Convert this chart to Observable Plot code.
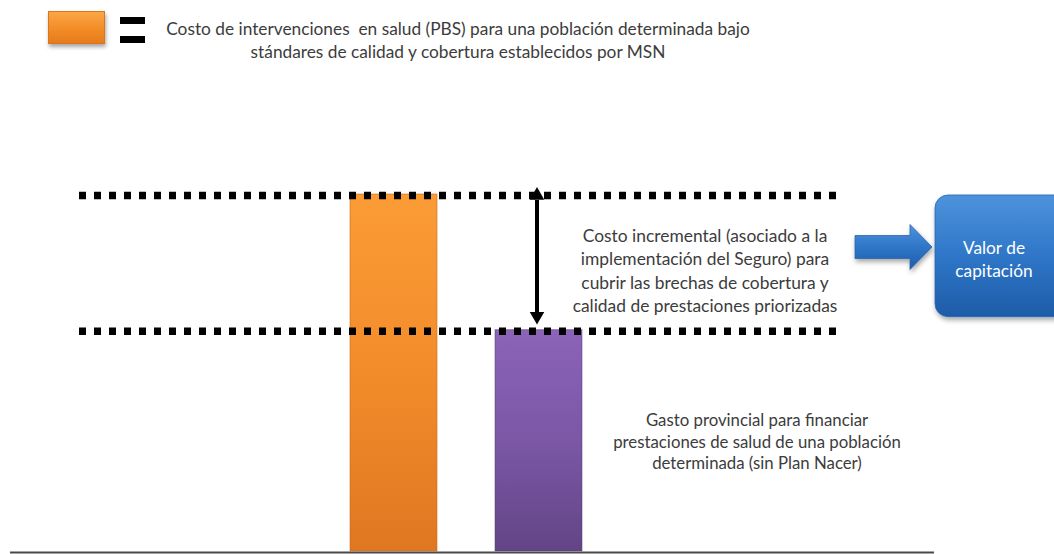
<!DOCTYPE html>
<html lang="es">
<head>
<meta charset="utf-8">
<script src="https://cdn.jsdelivr.net/npm/d3@7"></script>
<script src="https://cdn.jsdelivr.net/npm/@observablehq/plot@0.6"></script>
<style>
  html, body { margin: 0; padding: 0; background: #fff; }
  #figure { position: relative; width: 1054px; height: 554px; font-family: Lato, "Open Sans", sans-serif; color: #3c3c3c; }
  #legend { position: relative; height: 70px; }
  #legend .swatch {
    position: absolute; left: 48px; top: 11px; width: 57px; height: 33px;
    background: linear-gradient(#fba645, #f18a25 60%, #e67b1c);
    border: 1px solid #d9761f; box-sizing: border-box;
    box-shadow: 1px 3px 4px rgba(0,0,0,0.35);
  }
  #legend .eq { position: absolute; left: 120px; width: 25px; height: 7px; background: #000; }
  #legend .text {
    position: absolute; left: 150px; top: 17px; width: 616px;
    text-align: center; font-size: 17.3px; line-height: 23px; color: #3c3c3c;
    white-space: pre;
  }
  svg { display: block; }
</style>
</head>
<body>
<div id="figure">
  <div id="legend">
    <div class="swatch"></div>
    <div class="eq" style="top:17px"></div>
    <div class="eq" style="top:36px"></div>
    <div class="text"></div>
  </div>
  <div id="chart"></div>
</div>
<script>
// Schematic values: total PBS cost vs. provincial spending (relative units)
const categories = ["Costo PBS", "Gasto provincial"];
const values = [100, 62];

const legendLines = [
  "Costo de intervenciones  en salud (PBS) para una población determinada bajo",
  "stándares de calidad y cobertura establecidos por MSN"
];
const gapLines = [
  "Costo incremental (asociado a la",
  "implementación del Seguro) para",
  "cubrir las brechas de cobertura y",
  "calidad de prestaciones priorizadas"
];
const baseLines = [
  "Gasto provincial para financiar",
  "prestaciones de salud de una población",
  "determinada (sin Plan Nacer)"
];
const boxLines = ["Valor de", "capitación"];

document.querySelector("#legend .text").textContent = legendLines.join("\n");

const data = categories.map((c, i) => ({category: c, value: values[i]}));
const W = 1054, H = 484;

// gradients for the bars and the blue callout
const defs = () => {
  const g = d3.create("svg:defs");
  const grad = (id, stops) => {
    const lg = g.append("linearGradient").attr("id", id).attr("x1", 0).attr("y1", 0).attr("x2", 0).attr("y2", 1);
    stops.forEach(([o, c]) => lg.append("stop").attr("offset", o).attr("stop-color", c));
  };
  grad("gOrange", [[0, "#fb9c36"], [0.5, "#f28c2a"], [1, "#df7722"]]);
  grad("gPurple", [[0, "#8b63b8"], [0.5, "#7b57a6"], [1, "#634586"]]);
  grad("gBlue", [[0, "#4d93dc"], [0.5, "#2f76c8"], [1, "#1e5ca8"]]);
  const f = g.append("filter").attr("id", "shadow").attr("x", "-20%").attr("y", "-20%").attr("width", "140%").attr("height", "150%");
  f.append("feDropShadow").attr("dx", 1).attr("dy", 3).attr("stdDeviation", 2.5).attr("flood-color", "#000").attr("flood-opacity", 0.35);
  return g.node();
};

// "Valor de capitación" callout: arrow + rounded box beside the gap
const callout = (index, scales) => {
  const yTop = scales.y(values[0]);
  const yBot = scales.y(values[1]);
  const g = d3.create("svg:g");
  const top = yTop + 1, bottom = yBot - 13, mid = yTop + 53;
  g.append("path")
    .attr("d", `M855,${mid - 11.5}H910V${mid - 22.5}L932,${mid}L910,${mid + 22.5}V${mid + 11.5}H855Z`)
    .attr("fill", "url(#gBlue)").attr("stroke", "#2a66b0").attr("stroke-width", 0.8)
    .attr("filter", "url(#shadow)");
  g.append("rect")
    .attr("x", 935).attr("y", top).attr("width", 140).attr("height", bottom - top)
    .attr("rx", 13).attr("fill", "url(#gBlue)").attr("stroke", "#2a66b0").attr("stroke-width", 0.8)
    .attr("filter", "url(#shadow)");
  const t = g.append("text")
    .attr("x", 994).attr("y", (top + bottom) / 2 - 6.5)
    .attr("text-anchor", "middle").attr("fill", "#fff")
    .attr("font-family", "Lato, sans-serif").attr("font-size", 17.3);
  boxLines.forEach((l, i) => t.append("tspan").attr("x", 994).attr("dy", i ? 23 : 0).attr("dominant-baseline", "middle").text(l));
  return g.node();
};

const chart = Plot.plot({
  width: W,
  height: H,
  margin: 0,
  style: {fontFamily: "Lato, sans-serif", background: "#fff"},
  x: {type: "band", domain: categories, range: [349, 583], paddingInner: 0.397, paddingOuter: 0, axis: null},
  y: {domain: [0, 100], range: [481, 124], axis: null},
  marks: [
    defs,
    Plot.barY(data.filter((d, i) => i === 0), {x: "category", y: "value", fill: "url(#gOrange)", stroke: "#c86a1c", strokeOpacity: 0.6}),
    Plot.barY(data.filter((d, i) => i === 1), {x: "category", y: "value", fill: "url(#gPurple)", stroke: "#563a75", strokeOpacity: 0.5}),
    // dotted reference lines at the two levels
    Plot.ruleY(values, {stroke: "#000", strokeWidth: 7.5, strokeDasharray: "7,8", insetLeft: 79, insetRight: W - 838, dy: 1}),
    // double-headed arrow spanning the gap
    Plot.ruleX([categories[1]], {y1: values[0], y2: values[1], stroke: "#000", strokeWidth: 4, dx: -2, insetTop: 6, insetBottom: 16}),
    Plot.dot([values[0]], {x: () => categories[1], y: d => d, symbol: "triangle", r: 5.4, fill: "#000", stroke: null, dx: -2, dy: 1}),
    Plot.dot([values[1]], {x: () => categories[1], y: d => d, symbol: "triangle", r: 5.4, fill: "#000", stroke: null, rotate: 180, dx: -2, dy: -14}),
    // baseline
    Plot.ruleY([0], {stroke: "#4a4a4a", strokeWidth: 2, insetLeft: 10, insetRight: W - 934, dy: 1}),
    Plot.text([gapLines.join("\n")], {
      x: () => categories[1], y: () => (values[0] + values[1]) / 2,
      dx: 166, dy: 7, fontSize: 17.4, lineHeight: 1.35, fill: "#3c3c3c", textAnchor: "middle"
    }),
    Plot.text([baseLines.join("\n")], {
      x: () => categories[1], y: () => values[1] / 2,
      dx: 218, dy: 0, fontSize: 16.8, lineHeight: 1.28, fill: "#3c3c3c", textAnchor: "middle"
    }),
    callout
  ]
});
document.getElementById("chart").appendChild(chart);
</script>
</body>
</html>
